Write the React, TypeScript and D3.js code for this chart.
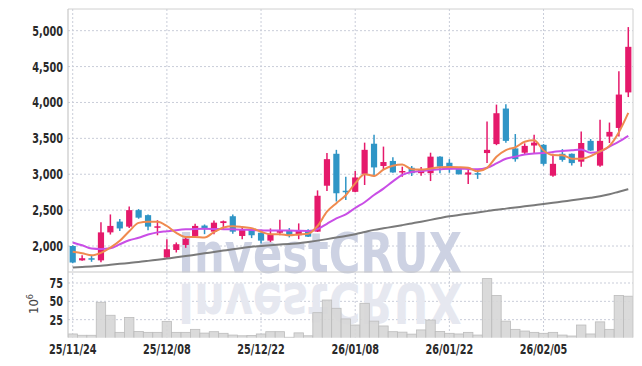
import React from "react";
import * as d3 from "d3";

const dates = [
  "25/11/24","25/11/25","25/11/26","25/11/27","25/11/28",
  "25/12/01","25/12/02","25/12/03","25/12/04","25/12/05",
  "25/12/08","25/12/09","25/12/10","25/12/11","25/12/12",
  "25/12/15","25/12/16","25/12/17","25/12/18","25/12/19",
  "25/12/22","25/12/23","25/12/24","25/12/26","25/12/29",
  "25/12/30","26/01/02","26/01/05","26/01/06","26/01/07",
  "26/01/08","26/01/09","26/01/12","26/01/13","26/01/14",
  "26/01/15","26/01/16","26/01/19","26/01/20","26/01/21",
  "26/01/22","26/01/23","26/01/26","26/01/27","26/01/28",
  "26/01/29","26/01/30","26/02/02","26/02/03","26/02/04",
  "26/02/05","26/02/06","26/02/09","26/02/10","26/02/11",
  "26/02/12","26/02/13","26/02/19","26/02/20","26/02/23",
];

const opens = [2000,1800,1830,1800,2190,2340,2270,2500,2430,2265,1840,1945,2015,2140,2285,2200,2320,2415,2140,2235,2185,2075,2185,2210,2150,2210,2200,2840,3285,2770,2755,3005,3425,3115,3185,3025,3090,3015,3015,3245,3160,3085,2995,3015,3295,3420,3915,3360,3300,3400,3410,2980,3285,3285,3175,3465,3120,3525,3645,4140];
const highs = [2010,1870,1870,2330,2440,2375,2550,2515,2440,2360,2095,2050,2125,2310,2300,2355,2355,2440,2255,2250,2190,2245,2365,2250,2315,2235,2775,3295,3340,2965,3045,3440,3550,3385,3235,3105,3115,3100,3300,3250,3210,3090,3060,3060,3735,3970,3975,3560,3430,3550,3420,3285,3350,3290,3595,3490,3760,3720,4435,5050];
const lows = [1760,1795,1780,1775,2160,2210,2250,2380,2220,2150,1835,1910,1975,2115,2165,2165,2230,2170,2095,2110,2035,2055,2150,2120,2095,2125,2195,2765,2620,2640,2750,2850,2965,3060,3020,2965,2975,2980,2905,3015,3020,2995,2865,2935,3155,3405,3440,3175,3280,3290,3120,2965,3175,3120,3105,3325,3105,3435,3525,4075];
const closes = [1770,1830,1815,2190,2280,2245,2500,2395,2270,2275,1955,2025,2100,2280,2235,2325,2345,2200,2225,2150,2075,2165,2210,2145,2210,2130,2700,3210,2735,2760,2955,3340,3095,3170,3025,3045,3015,3070,3245,3105,3070,3000,3025,3005,3340,3850,3465,3210,3395,3440,3145,3145,3200,3155,3435,3330,3465,3590,4110,4775];
const volumes = [5.5,3.7,3.7,48.7,31,7.7,28,9,7.7,7.7,22.7,7.7,7.7,11.8,6.7,8.6,6.4,4,3,3.5,5.5,8.6,8.6,1,7,3,34.5,51.8,40.5,26,17.7,47.3,23,16.4,8.6,8,5.3,11,24.5,9,6.4,5.5,7.7,4,81,58,23,11.8,9.5,7.7,6.4,7.7,4,2.7,17.7,5.5,22,11.8,58,57];

const ma5 = [1920,1900,1870,1905,1977,2072,2206,2322,2338,2337,2279,2184,2125,2127,2119,2193,2257,2277,2266,2249,2199,2163,2165,2149,2161,2172,2279,2479,2597,2707,2872,3000,2977,3064,3117,3135,3070,3065,3080,3096,3101,3098,3089,3041,3088,3244,3337,3374,3452,3472,3331,3267,3265,3217,3216,3253,3317,3395,3586,3854];
const ma20 = [2050,2010,1965,1958,1968,2025,2080,2115,2160,2190,2205,2220,2232,2238,2240,2238,2235,2232,2228,2222,2218,2215,2215,2215,2212,2210,2235,2310,2385,2440,2530,2610,2710,2800,2900,2990,3030,3045,3058,3068,3078,3078,3072,3068,3090,3150,3215,3245,3275,3290,3295,3310,3325,3335,3345,3300,3315,3385,3455,3535];
const ma60 = [1700,1708,1716,1725,1739,1752,1764,1777,1793,1810,1826,1842,1860,1879,1898,1917,1936,1955,1973,1991,2001,2011,2020,2029,2039,2056,2075,2096,2118,2140,2165,2195,2225,2247,2268,2291,2315,2339,2364,2390,2414,2432,2450,2468,2486,2505,2521,2537,2553,2569,2585,2602,2620,2637,2655,2673,2693,2721,2757,2792];

const priceTicks = [2000, 2500, 3000, 3500, 4000, 4500, 5000];
const volumeTicks = [25, 50, 75];
const dateTickLabels = ["25/11/24", "25/12/08", "25/12/22", "26/01/08", "26/01/22", "26/02/05"];

const W = 642, H = 366;
const L = 68, R = 633, T = 9, PB = 272, VB = 338;
const UP = "#e5196b", DOWN = "#2f95c6";
const FONT = "'DejaVu Sans Condensed', 'DejaVu Sans', sans-serif";
const SX = 0.77;

export default function App() {
  const x = d3.scaleBand<string>().domain(dates).range([L, R]).paddingInner(0).paddingOuter(0);
  const bw = x.bandwidth();
  const cx = (i: number) => (x(dates[i]) as number) + bw / 2;
  const y = d3.scaleLinear().domain([1638, 5302]).range([PB, T]);
  const yv = d3.scaleLinear().domain([0, 90]).range([VB, PB]);
  const line = (arr: number[]) =>
    d3.line<number>().x((_, i) => cx(i)).y((d) => y(d)).curve(d3.curveMonotoneX)(arr) || "";
  const gridColor = "#c9cdd9";

  return (
    <svg width={W} height={H} style={{ position: "absolute", left: 0, top: 0, background: "#fff" }}>
      <defs>
        <clipPath id="pclip"><rect x={L} y={T} width={R - L} height={PB - T} /></clipPath>
        <clipPath id="vclip"><rect x={L} y={PB} width={R - L} height={VB - PB - 0.5} /></clipPath>
      </defs>
      {priceTicks.map((t) => (
        <line key={"pg" + t} x1={L} x2={R} y1={y(t)} y2={y(t)} stroke={gridColor} strokeDasharray="2,2" />
      ))}
      {volumeTicks.map((t) => (
        <line key={"vg" + t} x1={L} x2={R} y1={yv(t)} y2={yv(t)} stroke={gridColor} strokeDasharray="2,2" />
      ))}
      {dateTickLabels.map((d) => (
        <line key={"xg" + d} x1={cx(dates.indexOf(d))} x2={cx(dates.indexOf(d))} y1={T} y2={VB - 0.5} stroke={gridColor} strokeDasharray="2,2" />
      ))}
      <g>
        <text x={320} y={272} textAnchor="middle" fontFamily="'DejaVu Sans', sans-serif" fontWeight="bold" fontSize={56}
          textLength={284} lengthAdjust="spacingAndGlyphs" fill="#cdd2e3">InvestCRUX</text>
        <text x={320} y={-284} transform="scale(1,-1)" textAnchor="middle" fontFamily="'DejaVu Sans', sans-serif" fontWeight="bold" fontSize={56}
          textLength={284} lengthAdjust="spacingAndGlyphs" fill="#e6e8f0">InvestCRUX</text>
      </g>
      <g clipPath="url(#vclip)">
        {volumes.map((v, i) => (
          <rect key={"v" + i} x={x(dates[i]) as number} y={yv(v)} width={bw} height={VB - yv(v)}
            fill="#d6d6d6" fillOpacity={0.9} stroke="#bcbcbc" strokeWidth={0.8} />
        ))}
      </g>
      <g clipPath="url(#pclip)">
        {dates.map((d, i) => {
          const o = opens[i], c = closes[i];
          const col = c >= o ? UP : DOWN;
          const top = y(Math.max(o, c)), bot = y(Math.min(o, c));
          const cw = 6.2;
          return (
            <g key={"c" + i}>
              <line x1={cx(i)} x2={cx(i)} y1={y(highs[i])} y2={y(lows[i])} stroke={col} strokeWidth={1.5} />
              <rect x={cx(i) - cw / 2} y={top} width={cw} height={Math.max(bot - top, 1.5)} fill={col} />
            </g>
          );
        })}
        <path d={line(ma60)} fill="none" stroke="#7a7a7a" strokeWidth={2} />
        <path d={line(ma20)} fill="none" stroke="#c94ee6" strokeWidth={2} />
        <path d={line(ma5)} fill="none" stroke="#ef8a4f" strokeWidth={2} />
      </g>
      <line x1={L} x2={R} y1={T} y2={T} stroke="#d0d0d0" />
      <line x1={L} x2={L} y1={T} y2={VB - 0.5} stroke="#c8c8c8" strokeWidth={1.2} />
      <line x1={R} x2={R} y1={T} y2={VB - 0.5} stroke="#d0d0d0" />
      <line x1={L} x2={R} y1={PB} y2={PB} stroke="#c8c8c8" />
      {priceTicks.map((t) => (
        <text key={"pt" + t} transform={`translate(63,${y(t)}) scale(${SX},1)`} dy="0.36em" textAnchor="end"
          fontFamily={FONT} fontWeight="bold" fontSize={14} fill="#2a2a2a">
          {d3.format(",")(t)}
        </text>
      ))}
      {volumeTicks.map((t) => (
        <text key={"vt" + t} transform={`translate(63,${yv(t)}) scale(${SX},1)`} dy="0.36em" textAnchor="end"
          fontFamily={FONT} fontWeight="bold" fontSize={14} fill="#2a2a2a">
          {t}
        </text>
      ))}
      <text transform="translate(38,304) rotate(-90)" textAnchor="middle" fontFamily={FONT} fontSize={13} fill="#444">
        10<tspan dy={-5} fontSize={9}>6</tspan>
      </text>
      {dateTickLabels.map((d) => (
        <text key={"xt" + d} transform={`translate(${cx(dates.indexOf(d))},354) scale(${SX},1)`} textAnchor="middle"
          fontFamily={FONT} fontWeight="bold" fontSize={14} fill="#2a2a2a">
          {d}
        </text>
      ))}
    </svg>
  );
}
